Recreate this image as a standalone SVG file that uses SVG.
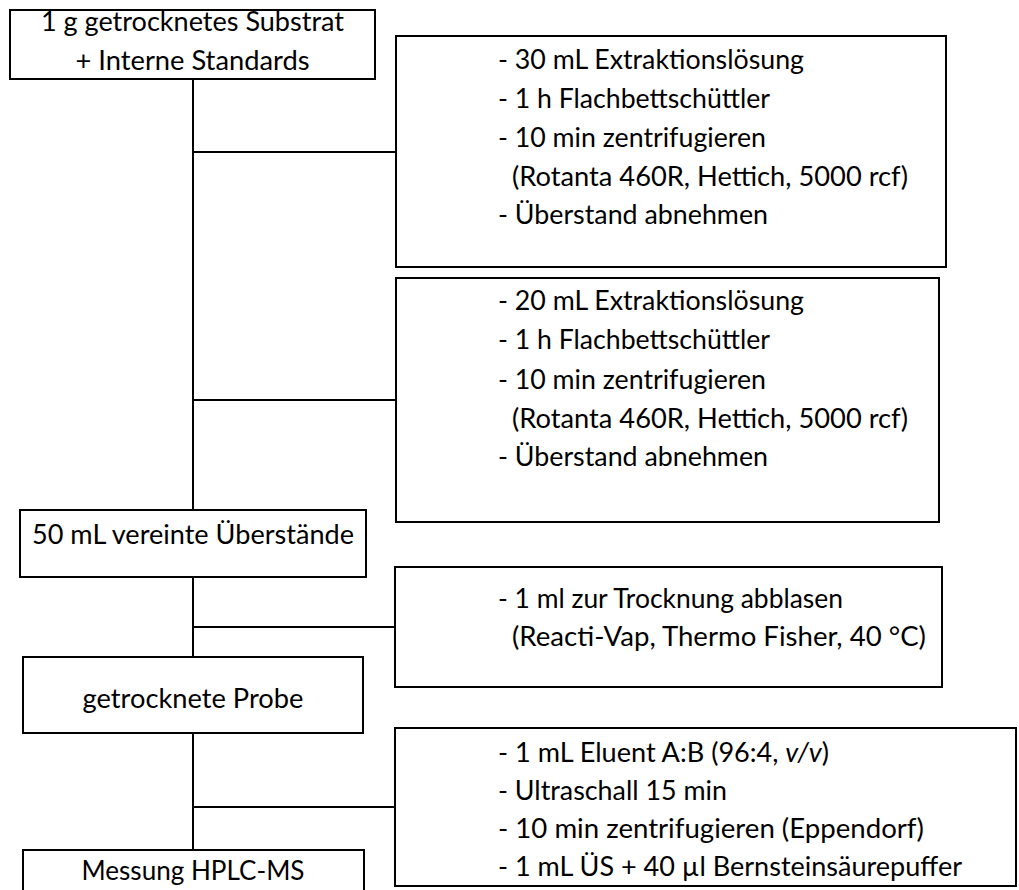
<svg xmlns="http://www.w3.org/2000/svg" width="1019" height="890" viewBox="0 0 1019 890">
<style>
  .box { fill: #ffffff; stroke: #000000; stroke-width: 2; }
  .con { fill: none; stroke: #000000; stroke-width: 2; }
  text { font-family: Lato, "Open Sans", "Liberation Sans", sans-serif; font-size: 27px; fill: #000000; }
  .c { text-anchor: middle; }
</style>
<rect x="0" y="0" width="1019" height="890" fill="#ffffff"/>
<g id="connectors">
  <path class="con" d="M193 79 V510"/>
  <path class="con" d="M193 152 H396"/>
  <path class="con" d="M193 400 H396"/>
  <path class="con" d="M193 577 V657"/>
  <path class="con" d="M193 627 H395"/>
  <path class="con" d="M193 733 V850"/>
  <path class="con" d="M193 807 H395"/>
</g>
<g id="node-substrat">
  <rect class="box" x="10" y="10" width="365" height="69"/>
  <text class="c" x="192.5" y="31" textLength="303" lengthAdjust="spacingAndGlyphs">1 g getrocknetes Substrat</text>
  <text class="c" x="192.5" y="70" textLength="234" lengthAdjust="spacingAndGlyphs">+ Interne Standards</text>
</g>
<g id="node-extraktion1">
  <rect class="box" x="396" y="36" width="550" height="231"/>
  <text x="498" y="69" textLength="306" lengthAdjust="spacingAndGlyphs">- 30 mL Extraktionslösung</text>
  <text x="498" y="108" textLength="272" lengthAdjust="spacingAndGlyphs">- 1 h Flachbettschüttler</text>
  <text x="498" y="147" textLength="268" lengthAdjust="spacingAndGlyphs">- 10 min zentrifugieren</text>
  <text x="512" y="186" textLength="396" lengthAdjust="spacingAndGlyphs">(Rotanta 460R, Hettich, 5000 rcf)</text>
  <text x="498" y="224" textLength="270" lengthAdjust="spacingAndGlyphs">- Überstand abnehmen</text>
</g>
<g id="node-extraktion2">
  <rect class="box" x="396" y="278" width="543" height="244"/>
  <text x="498" y="310" textLength="306" lengthAdjust="spacingAndGlyphs">- 20 mL Extraktionslösung</text>
  <text x="498" y="349" textLength="272" lengthAdjust="spacingAndGlyphs">- 1 h Flachbettschüttler</text>
  <text x="498" y="389" textLength="268" lengthAdjust="spacingAndGlyphs">- 10 min zentrifugieren</text>
  <text x="512" y="428" textLength="396" lengthAdjust="spacingAndGlyphs">(Rotanta 460R, Hettich, 5000 rcf)</text>
  <text x="498" y="466" textLength="270" lengthAdjust="spacingAndGlyphs">- Überstand abnehmen</text>
</g>
<g id="node-vereint">
  <rect class="box" x="20" y="510" width="346" height="67"/>
  <text class="c" x="193" y="544" textLength="322" lengthAdjust="spacingAndGlyphs">50 mL vereinte Überstände</text>
</g>
<g id="node-trocknung">
  <rect class="box" x="395" y="567" width="547" height="120"/>
  <text x="498" y="608" textLength="345" lengthAdjust="spacingAndGlyphs">- 1 ml zur Trocknung abblasen</text>
  <text x="512" y="646" textLength="414" lengthAdjust="spacingAndGlyphs">(Reacti-Vap, Thermo Fisher, 40 °C)</text>
</g>
<g id="node-probe">
  <rect class="box" x="23" y="657" width="340" height="76"/>
  <text class="c" x="193" y="708" textLength="221" lengthAdjust="spacingAndGlyphs">getrocknete Probe</text>
</g>
<g id="node-eluent">
  <rect class="box" x="395" y="728" width="621" height="158"/>
  <text x="498" y="762" textLength="331" lengthAdjust="spacingAndGlyphs">- 1 mL Eluent A:B (96:4, <tspan font-style="italic">v/v</tspan>)</text>
  <text x="498" y="800" textLength="229" lengthAdjust="spacingAndGlyphs">- Ultraschall 15 min</text>
  <text x="498" y="838" textLength="426" lengthAdjust="spacingAndGlyphs">- 10 min zentrifugieren (Eppendorf)</text>
  <text x="498" y="876" textLength="464" lengthAdjust="spacingAndGlyphs">- 1 mL ÜS + 40 µl Bernsteinsäurepuffer</text>
</g>
<g id="node-messung">
  <rect class="box" x="23" y="850" width="341" height="60"/>
  <text class="c" x="193" y="880" textLength="223" lengthAdjust="spacingAndGlyphs">Messung HPLC-MS</text>
</g>
</svg>
